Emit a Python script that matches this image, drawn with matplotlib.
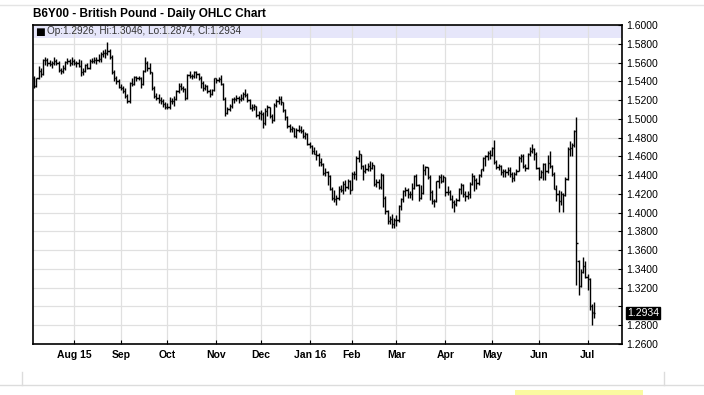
import matplotlib
matplotlib.use("Agg")
import matplotlib.pyplot as plt
import matplotlib.lines as mlines
import matplotlib.patches as mpatches
import matplotlib.transforms as mtransforms
import pandas as pd

# trading days shown on the chart (exchange holidays dropped)
START, END = "2015-07-08", "2016-07-07"
HOLIDAYS = ["2015-09-07", "2015-11-26", "2015-12-25", "2016-01-01", "2016-01-18",
            "2016-02-15", "2016-03-25", "2016-05-30", "2016-07-04"]
month_labels = ["Aug 15", "Sep", "Oct", "Nov", "Dec", "Jan 16", "Feb", "Mar",
                "Apr", "May", "Jun", "Jul"]

price_ticks = [1.26, 1.28, 1.30, 1.32, 1.34, 1.36, 1.38, 1.40, 1.42, 1.44, 1.46,
               1.48, 1.50, 1.52, 1.54, 1.56, 1.58, 1.60]

opens = [
    1.5430, 1.5345, 1.5430, 1.5515, 1.5480, 1.5625, 1.5630, 1.5600, 1.5580, 1.5590, 1.5615, 1.5600, 1.5520, 1.5505, 1.5540, 1.5610, 1.5620, 1.5590,
    1.5615, 1.5600, 1.5597, 1.5565, 1.5497, 1.5510, 1.5570, 1.5545, 1.5615, 1.5620, 1.5630, 1.5630, 1.5640, 1.5690, 1.5700, 1.5700, 1.5720, 1.5660, 1.5500, 1.5440, 1.5400,
    1.5340, 1.5330, 1.5300, 1.5240, 1.5185, 1.5380, 1.5370, 1.5445, 1.5430, 1.5440, 1.5375, 1.5510, 1.5595, 1.5540, 1.5495, 1.5325, 1.5240, 1.5220, 1.5200, 1.5185, 1.5160,
    1.5125, 1.5130, 1.5185, 1.5185, 1.5215, 1.5300, 1.5355, 1.5330, 1.5315, 1.5220, 1.5470, 1.5460, 1.5460, 1.5495, 1.5475, 1.5440, 1.5380, 1.5330, 1.5355, 1.5295, 1.5265, 1.5305,
    1.5430, 1.5415, 1.5420, 1.5375, 1.5210, 1.5060, 1.5105, 1.5140, 1.5210, 1.5215, 1.5220, 1.5215, 1.5220, 1.5260, 1.5255, 1.5200, 1.5120, 1.5125, 1.5135, 1.5040,
    1.5060, 1.5050, 1.4955, 1.5085, 1.5125, 1.5030, 1.4985, 1.5150, 1.5190, 1.5215, 1.5175, 1.5095, 1.5015, 1.4920, 1.4895, 1.4900, 1.4820, 1.4880, 1.4880, 1.4865, 1.4815, 1.4840,
    1.4735, 1.4715, 1.4655, 1.4630, 1.4610, 1.4535, 1.4520, 1.4425, 1.4435, 1.4395, 1.4255, 1.4160, 1.4150, 1.4155, 1.4255, 1.4245, 1.4305, 1.4270, 1.4335,
    1.4245, 1.4410, 1.4415, 1.4580, 1.4625, 1.4500, 1.4445, 1.4470, 1.4495, 1.4475, 1.4505, 1.4305, 1.4325, 1.4270, 1.4400, 1.4155, 1.4015, 1.3915, 1.3930, 1.3880,
    1.3920, 1.3925, 1.4070, 1.4150, 1.4230, 1.4240, 1.4195, 1.4200, 1.4260, 1.4395, 1.4300, 1.4155, 1.4205, 1.4455, 1.4490, 1.4380, 1.4220, 1.4120, 1.4120, 1.4335, 1.4380, 1.4340,
    1.4375, 1.4225, 1.4215, 1.4150, 1.4110, 1.4090, 1.4135, 1.4250, 1.4300, 1.4200, 1.4180, 1.4200, 1.4310, 1.4390, 1.4350, 1.4320, 1.4400, 1.4460, 1.4580, 1.4600, 1.4640,
    1.4615, 1.4685, 1.4535, 1.4490, 1.4500, 1.4435, 1.4440, 1.4430, 1.4450, 1.4415, 1.4365, 1.4415, 1.4445, 1.4580, 1.4605, 1.4500, 1.4480, 1.4620, 1.4660, 1.4680, 1.4620,
    1.4480, 1.4385, 1.4430, 1.4520, 1.4440, 1.4530, 1.4500, 1.4415, 1.4255, 1.4195, 1.4120, 1.4195, 1.4190, 1.4355, 1.4680, 1.4690, 1.4720, 1.4870, 1.3480, 1.3220, 1.3370, 1.3430,
    1.3310, 1.3295, 1.3010, 1.2926,
]
highs = [
    1.5455, 1.5440, 1.5565, 1.5545, 1.5640, 1.5660, 1.5650, 1.5630, 1.5620, 1.5655, 1.5640, 1.5615, 1.5540, 1.5570, 1.5620, 1.5645, 1.5635, 1.5660,
    1.5640, 1.5620, 1.5640, 1.5630, 1.5545, 1.5580, 1.5600, 1.5640, 1.5650, 1.5655, 1.5660, 1.5690, 1.5715, 1.5735, 1.5740, 1.5820, 1.5740, 1.5680, 1.5520, 1.5460, 1.5420,
    1.5370, 1.5350, 1.5330, 1.5265, 1.5395, 1.5440, 1.5460, 1.5460, 1.5460, 1.5445, 1.5520, 1.5660, 1.5620, 1.5590, 1.5500, 1.5350, 1.5270, 1.5260, 1.5230, 1.5210, 1.5180,
    1.5170, 1.5230, 1.5220, 1.5240, 1.5310, 1.5385, 1.5385, 1.5350, 1.5330, 1.5480, 1.5510, 1.5480, 1.5505, 1.5510, 1.5490, 1.5460, 1.5400, 1.5370, 1.5360, 1.5320, 1.5320, 1.5440,
    1.5440, 1.5450, 1.5470, 1.5380, 1.5230, 1.5130, 1.5160, 1.5220, 1.5235, 1.5250, 1.5240, 1.5260, 1.5290, 1.5320, 1.5270, 1.5210, 1.5160, 1.5160, 1.5140, 1.5080,
    1.5090, 1.5070, 1.5120, 1.5150, 1.5130, 1.5050, 1.5170, 1.5210, 1.5240, 1.5240, 1.5180, 1.5110, 1.5030, 1.4950, 1.4920, 1.4905, 1.4900, 1.4930, 1.4920, 1.4890, 1.4860, 1.4850,
    1.4750, 1.4720, 1.4700, 1.4670, 1.4640, 1.4580, 1.4530, 1.4480, 1.4440, 1.4400, 1.4270, 1.4240, 1.4190, 1.4280, 1.4300, 1.4340, 1.4350, 1.4360, 1.4350,
    1.4430, 1.4440, 1.4600, 1.4670, 1.4630, 1.4510, 1.4520, 1.4530, 1.4550, 1.4540, 1.4510, 1.4360, 1.4360, 1.4420, 1.4410, 1.4180, 1.4030, 1.3960, 1.3990, 1.3940,
    1.3980, 1.4080, 1.4160, 1.4240, 1.4270, 1.4260, 1.4230, 1.4320, 1.4400, 1.4410, 1.4310, 1.4300, 1.4515, 1.4500, 1.4490, 1.4400, 1.4240, 1.4150, 1.4340, 1.4400, 1.4410, 1.4400,
    1.4380, 1.4280, 1.4240, 1.4190, 1.4140, 1.4160, 1.4260, 1.4320, 1.4310, 1.4230, 1.4230, 1.4330, 1.4420, 1.4400, 1.4370, 1.4410, 1.4470, 1.4590, 1.4610, 1.4660, 1.4670,
    1.4700, 1.4770, 1.4560, 1.4520, 1.4510, 1.4470, 1.4460, 1.4490, 1.4490, 1.4430, 1.4430, 1.4470, 1.4600, 1.4630, 1.4620, 1.4520, 1.4640, 1.4700, 1.4730, 1.4690, 1.4650,
    1.4490, 1.4450, 1.4530, 1.4530, 1.4610, 1.4660, 1.4510, 1.4430, 1.4290, 1.4240, 1.4230, 1.4210, 1.4380, 1.4700, 1.4760, 1.4740, 1.4880, 1.5020, 1.3500, 1.3400, 1.3530, 1.3480,
    1.3350, 1.3300, 1.3030, 1.3046,
]
lows = [
    1.5330, 1.5335, 1.5420, 1.5450, 1.5465, 1.5570, 1.5565, 1.5565, 1.5540, 1.5570, 1.5570, 1.5500, 1.5480, 1.5490, 1.5520, 1.5580, 1.5560, 1.5570,
    1.5575, 1.5555, 1.5550, 1.5460, 1.5470, 1.5500, 1.5535, 1.5530, 1.5590, 1.5600, 1.5580, 1.5610, 1.5610, 1.5660, 1.5650, 1.5680, 1.5640, 1.5480, 1.5405, 1.5370, 1.5330,
    1.5305, 1.5280, 1.5220, 1.5165, 1.5170, 1.5350, 1.5360, 1.5400, 1.5410, 1.5330, 1.5365, 1.5500, 1.5510, 1.5480, 1.5310, 1.5225, 1.5200, 1.5170, 1.5160, 1.5125, 1.5110,
    1.5110, 1.5110, 1.5155, 1.5140, 1.5200, 1.5280, 1.5310, 1.5290, 1.5200, 1.5210, 1.5440, 1.5420, 1.5440, 1.5435, 1.5410, 1.5330, 1.5300, 1.5310, 1.5270, 1.5230, 1.5250, 1.5300,
    1.5380, 1.5390, 1.5360, 1.5200, 1.5030, 1.5050, 1.5080, 1.5120, 1.5170, 1.5195, 1.5170, 1.5185, 1.5200, 1.5230, 1.5180, 1.5100, 1.5080, 1.5090, 1.5020, 1.5000,
    1.4990, 1.4900, 1.4930, 1.5030, 1.5010, 1.4960, 1.4980, 1.5130, 1.5160, 1.5150, 1.5070, 1.4990, 1.4900, 1.4860, 1.4860, 1.4810, 1.4800, 1.4860, 1.4850, 1.4800, 1.4790, 1.4720,
    1.4690, 1.4630, 1.4620, 1.4560, 1.4500, 1.4500, 1.4400, 1.4390, 1.4300, 1.4240, 1.4130, 1.4110, 1.4080, 1.4140, 1.4220, 1.4200, 1.4230, 1.4250, 1.4200,
    1.4240, 1.4360, 1.4350, 1.4540, 1.4470, 1.4350, 1.4420, 1.4440, 1.4440, 1.4460, 1.4280, 1.4270, 1.4250, 1.4250, 1.4060, 1.3990, 1.3880, 1.3880, 1.3840, 1.3835,
    1.3860, 1.3900, 1.4030, 1.4110, 1.4180, 1.4160, 1.4160, 1.4140, 1.4250, 1.4280, 1.4120, 1.4150, 1.4195, 1.4400, 1.4360, 1.4140, 1.4090, 1.4060, 1.4110, 1.4260, 1.4320, 1.4330,
    1.4180, 1.4190, 1.4130, 1.4050, 1.4005, 1.4070, 1.4120, 1.4200, 1.4170, 1.4120, 1.4150, 1.4160, 1.4300, 1.4230, 1.4250, 1.4300, 1.4380, 1.4440, 1.4500, 1.4560, 1.4570,
    1.4600, 1.4520, 1.4460, 1.4450, 1.4400, 1.4380, 1.4380, 1.4400, 1.4380, 1.4330, 1.4340, 1.4400, 1.4440, 1.4540, 1.4480, 1.4440, 1.4460, 1.4600, 1.4640, 1.4560, 1.4470,
    1.4350, 1.4370, 1.4350, 1.4350, 1.4420, 1.4480, 1.4390, 1.4250, 1.4120, 1.4010, 1.4080, 1.4010, 1.4180, 1.4350, 1.4600, 1.4600, 1.4700, 1.3230, 1.3120, 1.3210, 1.3360, 1.3300,
    1.3180, 1.2960, 1.2800, 1.2874,
]
closes = [
    1.5345, 1.5430, 1.5515, 1.5480, 1.5625, 1.5630, 1.5600, 1.5580, 1.5590, 1.5615, 1.5600, 1.5520, 1.5505, 1.5540, 1.5610, 1.5620, 1.5590, 1.5615,
    1.5600, 1.5597, 1.5565, 1.5497, 1.5510, 1.5570, 1.5545, 1.5615, 1.5620, 1.5630, 1.5630, 1.5640, 1.5690, 1.5700, 1.5700, 1.5720, 1.5660, 1.5500, 1.5440, 1.5400, 1.5340,
    1.5330, 1.5300, 1.5240, 1.5185, 1.5380, 1.5370, 1.5445, 1.5430, 1.5440, 1.5375, 1.5510, 1.5595, 1.5540, 1.5495, 1.5325, 1.5240, 1.5220, 1.5200, 1.5185, 1.5160, 1.5125,
    1.5130, 1.5185, 1.5185, 1.5215, 1.5300, 1.5355, 1.5330, 1.5315, 1.5220, 1.5470, 1.5460, 1.5460, 1.5495, 1.5475, 1.5440, 1.5380, 1.5330, 1.5355, 1.5295, 1.5265, 1.5305, 1.5430,
    1.5415, 1.5420, 1.5375, 1.5210, 1.5060, 1.5105, 1.5140, 1.5210, 1.5215, 1.5220, 1.5215, 1.5220, 1.5260, 1.5255, 1.5200, 1.5120, 1.5125, 1.5135, 1.5040, 1.5060,
    1.5050, 1.4955, 1.5085, 1.5125, 1.5030, 1.4985, 1.5150, 1.5190, 1.5215, 1.5175, 1.5095, 1.5015, 1.4920, 1.4895, 1.4900, 1.4820, 1.4880, 1.4880, 1.4865, 1.4815, 1.4840, 1.4735,
    1.4715, 1.4655, 1.4630, 1.4610, 1.4535, 1.4520, 1.4425, 1.4435, 1.4395, 1.4255, 1.4160, 1.4150, 1.4155, 1.4255, 1.4245, 1.4305, 1.4270, 1.4335, 1.4245,
    1.4410, 1.4415, 1.4580, 1.4625, 1.4500, 1.4445, 1.4470, 1.4495, 1.4475, 1.4505, 1.4305, 1.4325, 1.4270, 1.4400, 1.4155, 1.4015, 1.3915, 1.3930, 1.3880, 1.3920,
    1.3925, 1.4070, 1.4150, 1.4230, 1.4240, 1.4195, 1.4200, 1.4260, 1.4395, 1.4300, 1.4155, 1.4205, 1.4455, 1.4490, 1.4380, 1.4220, 1.4120, 1.4120, 1.4335, 1.4380, 1.4340, 1.4375,
    1.4225, 1.4215, 1.4150, 1.4110, 1.4090, 1.4135, 1.4250, 1.4300, 1.4200, 1.4180, 1.4200, 1.4310, 1.4390, 1.4350, 1.4320, 1.4400, 1.4460, 1.4580, 1.4600, 1.4640, 1.4615,
    1.4685, 1.4535, 1.4490, 1.4500, 1.4435, 1.4440, 1.4430, 1.4450, 1.4415, 1.4365, 1.4415, 1.4445, 1.4580, 1.4605, 1.4500, 1.4480, 1.4620, 1.4660, 1.4680, 1.4620, 1.4480,
    1.4385, 1.4430, 1.4520, 1.4440, 1.4530, 1.4500, 1.4415, 1.4255, 1.4195, 1.4120, 1.4195, 1.4190, 1.4355, 1.4680, 1.4690, 1.4720, 1.4870, 1.3680, 1.3220, 1.3370, 1.3430, 1.3310,
    1.3295, 1.3010, 1.2940, 1.2934,
]

FONT = ["Liberation Sans", "DejaVu Sans"]
plt.rcParams["font.family"] = FONT

dates = pd.bdate_range(START, END)
dates = dates[~dates.isin(pd.to_datetime(HOLIDAYS))]
x = list(range(len(dates)))

# first trading day of each month after July 2015
month_pos = []
for i in range(1, len(dates)):
    if dates[i].month != dates[i - 1].month:
        month_pos.append(i)

fig = plt.figure(figsize=(7.04, 3.95), dpi=100)
ax = fig.add_axes([33 / 704, 1 - 344 / 395, 589 / 704, 319 / 395])

ax.vlines(x, lows, highs, color="black", linewidth=1.0, zorder=3)
ax.hlines(opens, [i - 0.55 for i in x], x, color="black", linewidth=1.0, zorder=3)
ax.hlines(closes, x, [i + 0.55 for i in x], color="black", linewidth=1.0, zorder=3)

ax.set_xlim(-0.5, 264.5)
ax.set_ylim(1.26, 1.60)

ax.set_xticks(month_pos)
ax.set_xticklabels(month_labels[:len(month_pos)], fontsize=7.5, fontweight="bold")
ax.yaxis.tick_right()
ax.set_yticks(price_ticks)
ax.set_yticklabels(["" if abs(p - 1.30) < 1e-9 else "%.4f" % p for p in price_ticks], fontsize=7.5)
ax.tick_params(axis="x", direction="in", length=3, pad=4, color="black")
ax.tick_params(axis="y", direction="in", length=3, pad=3, color="black")

ax.set_axisbelow(True)
ax.grid(True, color="#e0e0e0", linewidth=0.9)
for s in ax.spines.values():
    s.set_color("black")
    s.set_linewidth(1.2)

# lavender info strip along the top of the plot
band = mpatches.Rectangle((0, 1 - 13 / 319), 1, 13 / 319, transform=ax.transAxes,
                          facecolor="#e6e6fa", edgecolor="none", zorder=0.2)
ax.add_patch(band)
ax.text(2 / 589, 1 - 6.5 / 319, "\u25a0", transform=ax.transAxes, fontsize=7.5,
        color="black", va="center", ha="left", family="DejaVu Sans", zorder=4)
ax.text(14 / 589, 1 - 6.5 / 319,
        "Op:%.4f, Hi:%.4f, Lo:%.4f, Cl:%.4f" % (opens[-1], highs[-1], lows[-1], closes[-1]),
        transform=ax.transAxes, fontsize=7.2, color="#333333", va="center", ha="left", zorder=4)

# last price box on the price axis
trans = mtransforms.blended_transform_factory(ax.transAxes, ax.transData)
ax.text(1.0 + 5 / 589, closes[-1], "%.4f" % closes[-1], transform=trans, fontsize=7.5,
        color="white", va="center", ha="left",
        bbox=dict(boxstyle="square,pad=0.1", facecolor="black", edgecolor="black"))

fig.text(33 / 704, 1 - 14 / 395, "B6Y00 - British Pound - Daily OHLC Chart",
         fontsize=8.5, fontweight="bold", va="center", ha="left")

# page furniture around the chart image
fig.add_artist(mlines.Line2D([0, 1], [1 - 5 / 395, 1 - 5 / 395], color="#e4e4e4", linewidth=1))
fig.add_artist(mlines.Line2D([0, 1], [1 - 385 / 395, 1 - 385 / 395], color="#dcdcdc", linewidth=1))
fig.add_artist(mlines.Line2D([22 / 704, 22 / 704], [1 - 385 / 395, 1 - 372 / 395], color="#dcdcdc", linewidth=1))
fig.add_artist(mlines.Line2D([664 / 704, 664 / 704], [1 - 385 / 395, 1 - 372 / 395], color="#dcdcdc", linewidth=1))
fig.add_artist(mpatches.Rectangle((515 / 704, 0), 128 / 704, 5 / 395, transform=fig.transFigure,
                                  facecolor="#fafaa0", edgecolor="none"))

fig.savefig("out.png", dpi=100)
